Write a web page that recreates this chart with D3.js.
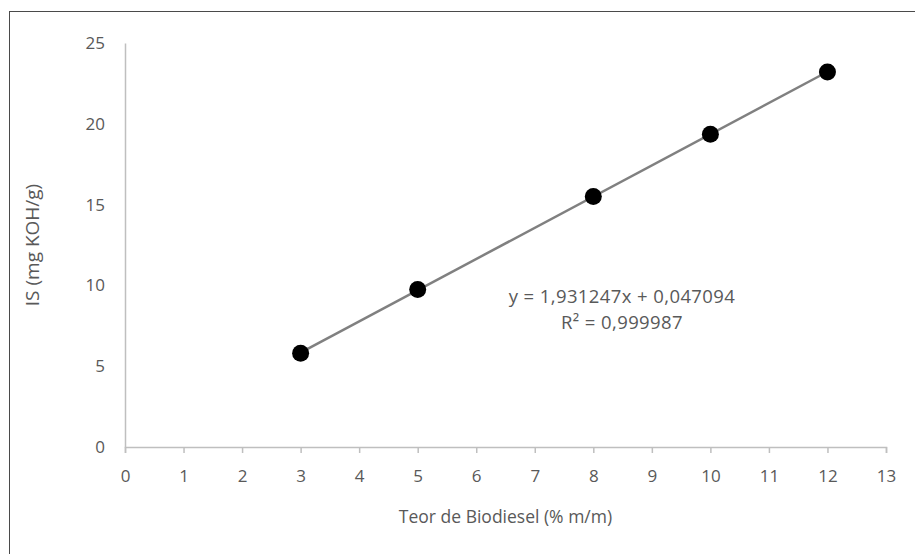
<!DOCTYPE html>
<html>
<head>
<meta charset="utf-8">
<script src="https://cdn.jsdelivr.net/npm/d3@7"></script>
<style>
  body { margin: 0; background: #fff; }
  svg { display: block; font-family: "Open Sans", sans-serif; }
</style>
</head>
<body>
<div id="graph"></div>
<script>
const teor = [3, 5, 8, 10, 12];
const indice = [5.8, 9.75, 15.5, 19.35, 23.2];
const xTicks = [0, 1, 2, 3, 4, 5, 6, 7, 8, 9, 10, 11, 12, 13];
const yTicks = [0, 5, 10, 15, 20, 25];
const slope = 1.931247;
const intercept = 0.047094;
const equationLines = ["y = 1,931247x + 0,047094", "R² = 0,999987"];

const W = 915, H = 554;
const margin = { top: 43, right: 29, bottom: 107, left: 125 };
const textColor = "#595959";
const axisColor = "#bfbfbf";

const svg = d3.select("#graph").append("svg")
  .attr("width", W)
  .attr("height", H);

// outer frame
svg.append("rect")
  .attr("x", 9.5).attr("y", 11.5)
  .attr("width", W).attr("height", H)
  .attr("fill", "#fff")
  .attr("stroke", "#4a4a4a")
  .attr("stroke-width", 1);

const x = d3.scaleLinear().domain([0, 13]).range([margin.left, W - margin.right]);
const y = d3.scaleLinear().domain([0, 25]).range([H - margin.bottom, margin.top]);

// x axis
const xAxis = svg.append("g")
  .attr("transform", `translate(0,${y(0)})`)
  .call(d3.axisBottom(x).tickValues(xTicks).tickSize(6).tickPadding(17).tickFormat(d3.format("d")));
xAxis.select(".domain").attr("stroke", axisColor).attr("stroke-width", 1.5);
xAxis.selectAll(".tick line").attr("stroke", axisColor).attr("stroke-width", 1.5);
xAxis.selectAll("text").attr("fill", textColor).style("font-size", "17px").style("font-family", "Open Sans");

// y axis (line only, labels without ticks)
const yAxis = svg.append("g")
  .attr("transform", `translate(${x(0)},0)`)
  .call(d3.axisLeft(y).tickValues(yTicks).tickSize(0).tickPadding(20).tickFormat(d3.format("d")));
yAxis.select(".domain").attr("stroke", axisColor).attr("stroke-width", 1.5);
yAxis.selectAll("text").attr("fill", textColor).style("font-size", "17px").style("font-family", "Open Sans");

// trend line
svg.append("line")
  .attr("x1", x(d3.min(teor))).attr("y1", y(slope * d3.min(teor) + intercept))
  .attr("x2", x(d3.max(teor))).attr("y2", y(slope * d3.max(teor) + intercept))
  .attr("stroke", "#808080")
  .attr("stroke-width", 2.5);

// points
svg.selectAll("circle.pt")
  .data(teor.map((t, i) => ({ t, v: indice[i] })))
  .enter().append("circle")
  .attr("class", "pt")
  .attr("cx", d => x(d.t))
  .attr("cy", d => y(d.v))
  .attr("r", 8.5)
  .attr("fill", "#000");

// equation
svg.append("text")
  .attr("x", 622).attr("y", 303)
  .attr("text-anchor", "middle")
  .attr("fill", textColor)
  .style("font-size", "18.5px")
  .style("letter-spacing", "0.4px")
  .selectAll("tspan")
  .data(equationLines)
  .enter().append("tspan")
  .attr("x", 622)
  .attr("dy", (d, i) => i === 0 ? 0 : 26)
  .text(d => d);

// axis titles
svg.append("text")
  .attr("x", (x(0) + x(13)) / 2).attr("y", 523)
  .attr("text-anchor", "middle")
  .attr("fill", textColor)
  .style("font-size", "17.5px")
  .text("Teor de Biodiesel (% m/m)");

svg.append("text")
  .attr("transform", `translate(39,${(y(0) + y(25)) / 2}) rotate(-90)`)
  .attr("text-anchor", "middle")
  .attr("fill", textColor)
  .style("font-size", "19px")
  .text("IS (mg KOH/g)");
</script>
</body>
</html>
